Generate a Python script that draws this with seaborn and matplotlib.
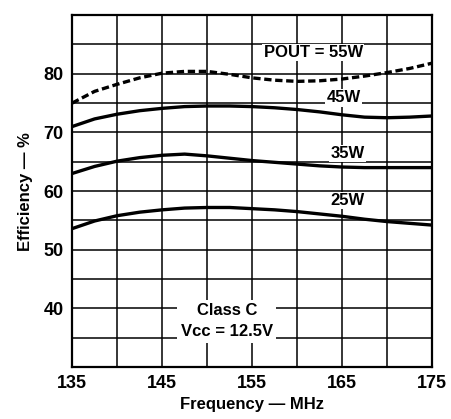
import matplotlib
matplotlib.use("Agg")
import matplotlib.pyplot as plt
import numpy as np
import pandas as pd
import seaborn as sns

# ---------------------------------------------------------------------------
# Data (efficiency % vs frequency MHz)
# ---------------------------------------------------------------------------
freq = [135, 137.5, 140, 142.5, 145, 147.5, 150, 152.5, 155,
        157.5, 160, 162.5, 165, 167.5, 170, 172.5, 175]
eff_55w = [75.0, 77.0, 78.2, 79.3, 80.1, 80.4, 80.4, 79.9, 79.3,
           78.9, 78.7, 78.8, 79.1, 79.6, 80.2, 80.9, 81.8]
eff_45w = [71.0, 72.3, 73.1, 73.7, 74.1, 74.4, 74.5, 74.5, 74.4,
           74.2, 73.9, 73.5, 73.0, 72.6, 72.5, 72.6, 72.8]
eff_35w = [63.0, 64.2, 65.1, 65.7, 66.1, 66.3, 66.0, 65.6, 65.2,
           64.9, 64.6, 64.3, 64.1, 64.0, 64.0, 64.0, 64.0]
eff_25w = [53.6, 54.9, 55.8, 56.4, 56.8, 57.1, 57.2, 57.2, 57.0,
           56.8, 56.5, 56.1, 55.7, 55.2, 54.8, 54.5, 54.2]

x_ticks = [135, 145, 155, 165, 175]
y_ticks = [40, 50, 60, 70, 80]

sns.set_theme(style="white")
plt.rcParams["font.family"] = ["Liberation Sans Narrow", "Liberation Sans", "DejaVu Sans"]
plt.rcParams["font.weight"] = "bold"
plt.rcParams["axes.labelweight"] = "bold"

df = pd.concat([
    pd.DataFrame({"freq": freq, "eff": e, "pout": p})
    for e, p in [(eff_55w, "55W"), (eff_45w, "45W"), (eff_35w, "35W"), (eff_25w, "25W")]
])

fig = plt.figure(figsize=(4.51, 4.19), dpi=100)
ax = fig.add_axes([0.160, 0.124, 0.798, 0.840])

# hand-drawn style grid every 5 units
for xv in np.arange(140, 175, 5):
    ax.axvline(xv, color="black", lw=1.1, zorder=1)
for yv in np.arange(35, 90, 5):
    ax.axhline(yv, color="black", lw=1.1, zorder=1)

sns.lineplot(data=df, x="freq", y="eff", hue="pout", style="pout",
             palette={"55W": "black", "45W": "black", "35W": "black", "25W": "black"},
             dashes={"55W": (2.2, 1.1), "45W": "", "35W": "", "25W": ""},
             linewidth=2.4, legend=False, ax=ax, zorder=3)

box = dict(facecolor="white", edgecolor="none", pad=1.0)
txt = dict(ha="center", va="center", fontsize=12, color="black", zorder=4, bbox=box)
ax.text(161.8, 83.6, "POUT = 55W", **txt)
ax.text(165.2, 75.9, "45W", **txt)
ax.text(165.6, 66.4, "35W", **txt)
ax.text(165.6, 58.4, "25W", **txt)
ax.text(152.2, 37.8, "Class C\nVcc = 12.5V", linespacing=1.5,
        **{**txt, "bbox": dict(facecolor="white", edgecolor="none", pad=2.5)})

ax.set_xlim(135, 175)
ax.set_ylim(30, 90)
ax.set_xticks(x_ticks)
ax.set_yticks(y_ticks)
ax.tick_params(length=0, labelsize=13, pad=6, colors="black")
ax.set_xlabel("Frequency — MHz", fontsize=12, color="black", labelpad=3)
ax.set_ylabel("Efficiency — %", fontsize=12, color="black", labelpad=8)
for s in ax.spines.values():
    s.set_color("black")
    s.set_linewidth(1.6)
    s.set_zorder(5)

fig.savefig("out.png", dpi=100)
